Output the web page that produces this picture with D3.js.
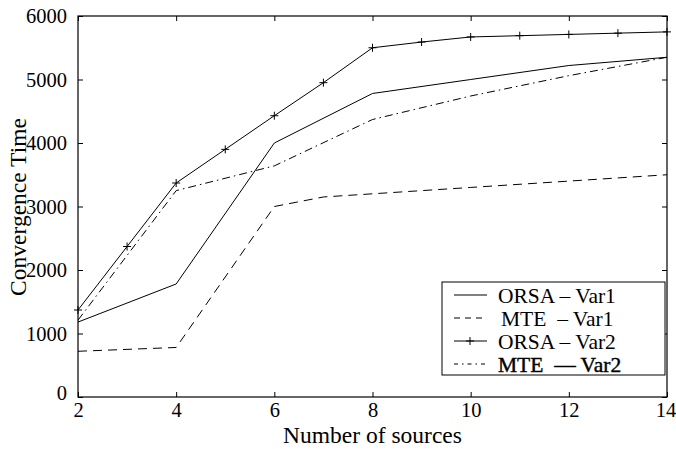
<!DOCTYPE html>
<html><head><meta charset="utf-8">
<script src="https://cdn.jsdelivr.net/npm/d3@7"></script>
<style>body{margin:0;background:#fff}svg{display:block}text{font-family:"Liberation Serif","Times New Roman",serif;fill:#000}</style>
</head><body><svg id="c" width="676" height="449"></svg>
<script>
const sources = [2,3,4,5,6,7,8,9,10,11,12,13,14];
const orsaVar1 = [[2,1180],[4,1780],[6,4000],[8,4780],[10,5000],[12,5220],[14,5350]];
const mteVar1 = [[2,720],[4,780],[6,3000],[7,3150],[8,3200],[10,3300],[12,3400],[14,3500]];
const orsaVar2 = [1370,2370,3370,3900,4430,4950,5500,5590,5670,5690,5710,5730,5750];
const mteVar2 = [[2,1210],[4,3250],[6,3640],[8,4370],[10,4740],[12,5060],[14,5350]];
const xTicks = [2,4,6,8,10,12,14];
const yTicks = [0,1000,2000,3000,4000,5000,6000];
const legendLabels = ["ORSA \u2013 Var1","MTE  \u2013 Var1","ORSA \u2013 Var2","MTE  \u2014 Var2"];

const svg = d3.select("#c");
const L=78,R=667,T=16,B=397;
const x = d3.scaleLinear().domain([2,14]).range([L,R]);
const y = d3.scaleLinear().domain([0,6000]).range([B,T]);

svg.append("rect").attr("x",L).attr("y",T).attr("width",R-L).attr("height",B-T)
  .attr("fill","none").attr("stroke","#000").attr("stroke-width",1.2);

const tk=5;
const ax = svg.append("g").attr("transform",`translate(0,${B})`)
  .call(d3.axisBottom(x).tickValues(xTicks).tickSize(-tk).tickPadding(5).tickFormat(d3.format("d")));
const axT = svg.append("g").attr("transform",`translate(0,${T})`)
  .call(d3.axisTop(x).tickValues(xTicks).tickSize(-tk).tickFormat(""));
const ay = svg.append("g").attr("transform",`translate(${L},0)`)
  .call(d3.axisLeft(y).tickValues(yTicks).tickSize(-tk).tickPadding(11).tickFormat(d3.format("d")));
const ayR = svg.append("g").attr("transform",`translate(${R},0)`)
  .call(d3.axisRight(y).tickValues(yTicks).tickSize(-tk).tickFormat(""));
[ax,axT,ay,ayR].forEach(g=>{g.select(".domain").remove();g.selectAll("line").attr("stroke","#000");
  g.selectAll("text").attr("font-size",20.5).style("font-family","Liberation Serif");});
ay.selectAll(".tick").filter(d=>d===0).select("text").attr("dy","0.1em");
ax.selectAll(".tick").filter(d=>d===14).select("text").attr("dx","-1.5");

svg.append("text").attr("x",(L+R)/2).attr("y",442.5).attr("text-anchor","middle").attr("font-size",23.5).text("Number of sources");
svg.append("text").attr("transform",`translate(25.5,207) rotate(-90)`).attr("text-anchor","middle").attr("font-size",23.5).text("Convergence Time");

const line = d3.line().x(d=>x(d[0])).y(d=>y(d[1]));
const o2 = sources.map((s,i)=>[s,orsaVar2[i]]);
const styles=[{d:orsaVar1,dash:null},{d:mteVar1,dash:"9,6"},{d:o2,dash:null},{d:mteVar2,dash:"8,4,1.5,4"}];
styles.forEach(s=>{
  svg.append("path").datum(s.d).attr("d",line).attr("fill","none").attr("stroke","#000")
    .attr("stroke-width",1).attr("stroke-dasharray",s.dash);
});
svg.selectAll(".pm").data(o2).enter().append("path")
  .attr("transform",d=>`translate(${x(d[0])},${y(d[1])})`)
  .attr("d","M-4,0H4M0,-4V4").attr("stroke","#000").attr("stroke-width",1);

const lg = svg.append("g");
lg.append("rect").attr("x",442).attr("y",282).attr("width",223).attr("height",93)
  .attr("fill","#fff").attr("stroke","#000").attr("stroke-width",1);
const rows=[295,318,341,364];
const tx=[498,501,498,498];
styles.forEach((s,i)=>{
  lg.append("line").attr("x1",454).attr("x2",487).attr("y1",rows[i]).attr("y2",rows[i])
    .attr("stroke","#000").attr("stroke-width",1).attr("stroke-dasharray",s.dash==="9,6"?"6,5":s.dash==="8,4,1.5,4"?"4,4,1.5,4":null);
  if(i===2) lg.append("path").attr("transform",`translate(470,${rows[i]})`).attr("d","M-4,0H4M0,-4V4").attr("stroke","#000");
  lg.append("text").attr("x",tx[i]).attr("y",rows[i]+7.5).attr("font-size",21.5)
    .attr("stroke",i===3?"#000":null).attr("stroke-width",i===3?0.4:null)
    .style("white-space","pre").text(legendLabels[i]);
});
</script></body></html>
